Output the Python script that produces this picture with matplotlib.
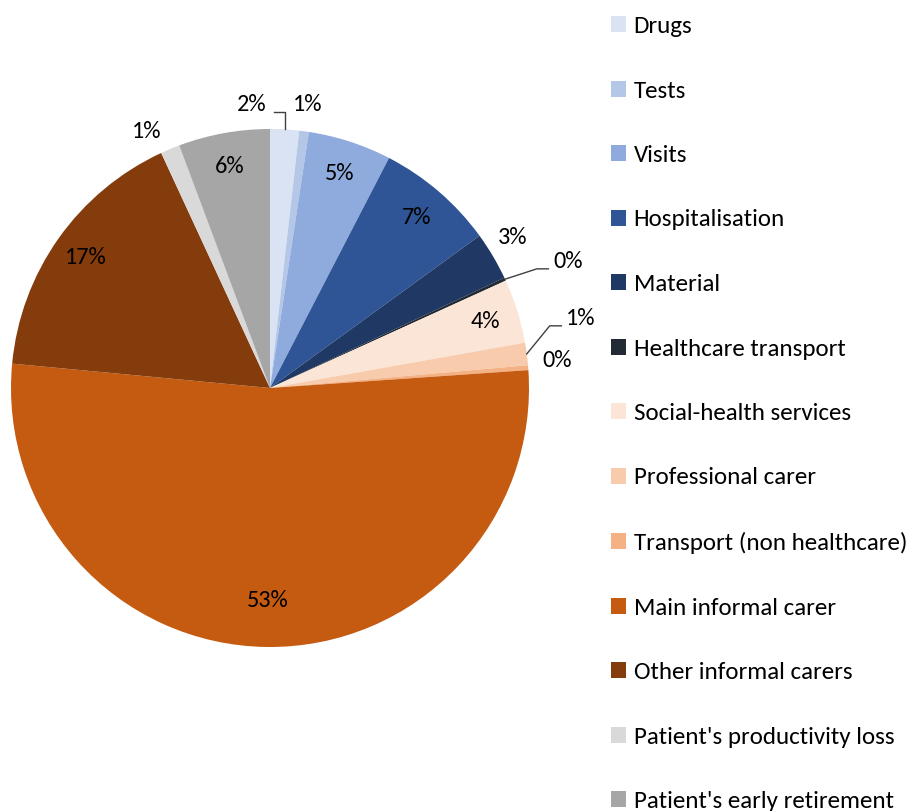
import matplotlib
matplotlib.use("Agg")
import matplotlib.pyplot as plt
import numpy as np
from matplotlib.patches import Patch

plt.rcParams["font.family"] = ["Carlito", "Liberation Sans", "DejaVu Sans"]

categories = [
    "Drugs", "Tests", "Visits", "Hospitalisation", "Material",
    "Healthcare transport", "Social-health services", "Professional carer",
    "Transport (non healthcare)", "Main informal carer", "Other informal carers",
    "Patient's productivity loss", "Patient's early retirement",
]
shares = [1.8, 0.6, 5.2, 7.4, 3.0, 0.2, 4.0, 1.4, 0.3, 52.6, 16.6, 1.2, 5.7]
colors = [
    "#DAE3F3", "#B4C7E7", "#8FAADC", "#2F5597", "#203864", "#222A35",
    "#FBE5D6", "#F8CBAD", "#F4B183", "#C55A11", "#843C0C", "#D9D9D9", "#A6A6A6",
]

# labels outside the pie: index -> (text x, text y, leader line?)
outside = {
    0: (-0.07, 1.095, True),
    1: (0.145, 1.095, False),
    4: (0.935, 0.58, False),
    5: (1.15, 0.49, True),
    7: (1.2, 0.27, True),
    8: (1.11, 0.105, False),
    11: (-0.475, 0.99, False),
}

W, H = 910, 811
fig = plt.figure(figsize=(W / 100, H / 100), dpi=100)
cx, cy, r = 270, 388, 259
ax = fig.add_axes([(cx - r) / W, (H - cy - r) / H, 2 * r / W, 2 * r / H])

wedges, _ = ax.pie(shares, colors=colors, startangle=90, counterclock=False,
                   radius=1, wedgeprops=dict(linewidth=0))
ax.set_xlim(-1, 1)
ax.set_ylim(-1, 1)
ax.set_aspect("equal")
ax.axis("off")

for i, (w, v) in enumerate(zip(wedges, shares)):
    mid = np.deg2rad((w.theta1 + w.theta2) / 2)
    txt = f"{v:.0f}%"
    if i in outside:
        tx, ty, leader = outside[i]
        ax.text(tx, ty, txt, ha="center", va="center", fontsize=17.5,
                clip_on=False)
        if leader:
            ex, ey = np.cos(mid), np.sin(mid)
            if i == 0:
                xs = [ex, ex, tx + 0.085]
                ys = [ey, ty - 0.03, ty - 0.03]
            else:
                xs = [ex, tx - 0.12, tx - 0.075]
                ys = [ey, ty - 0.03, ty - 0.03]
            ax.plot(xs, ys, color="#404040", lw=1, clip_on=False)
    else:
        d = 0.82 if v > 40 else 0.87
        ax.text(d * np.cos(mid), d * np.sin(mid), txt, ha="center",
                va="center", fontsize=17.5)

handles = [Patch(facecolor=c, edgecolor="none") for c in colors]
fig.legend(handles, categories, loc="upper left",
           bbox_to_anchor=(601 / W, 1 - 6 / H), frameon=False, fontsize=18,
           handlelength=0.6, handleheight=0.6, handletextpad=0.3,
           labelspacing=1.74, borderaxespad=0)

fig.savefig("out.png", dpi=100)
